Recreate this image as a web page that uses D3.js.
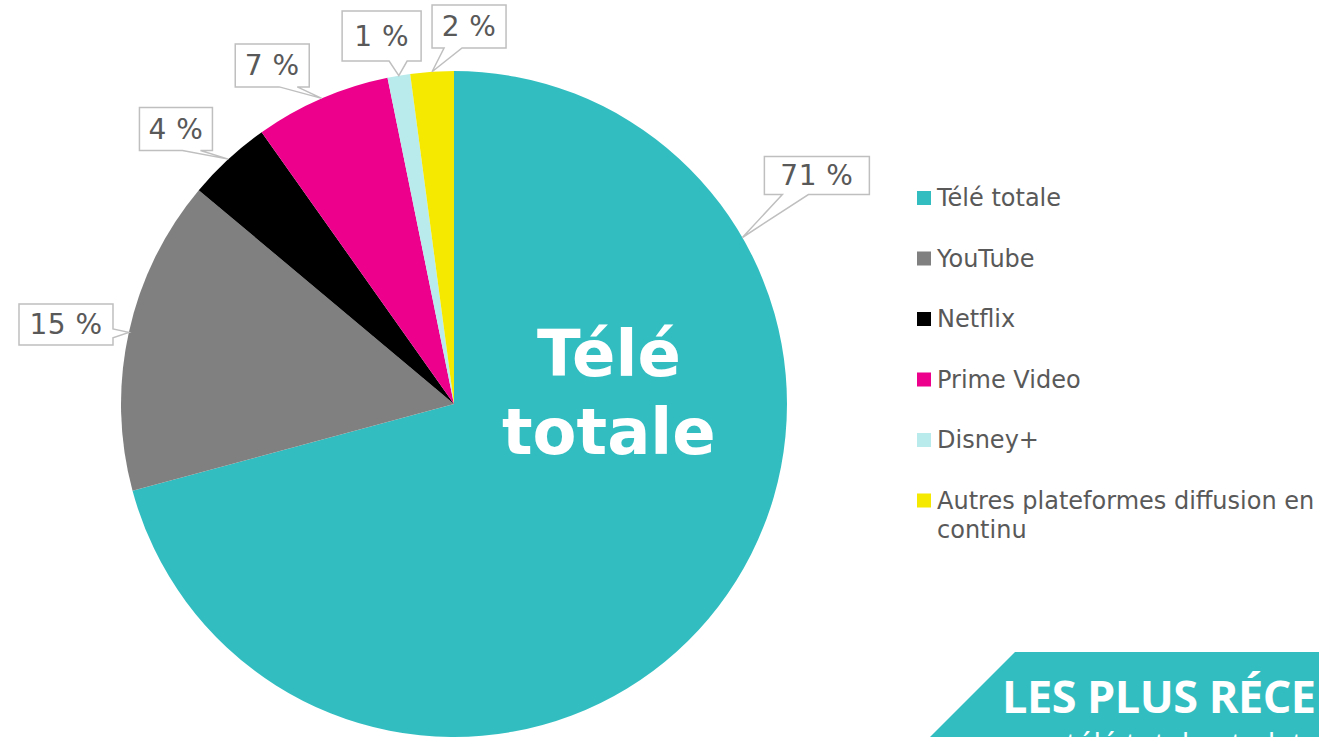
<!DOCTYPE html>
<html>
<head>
<meta charset="utf-8">
<script src="https://cdn.jsdelivr.net/npm/d3@7"></script>
<style>
    body { margin: 0; background: #fff; }
    svg { display: block; }
</style>
</head>
<body>
<div id="chart"></div>
<script>
// Parts d'écoute (en %)
const categories = ["Télé totale", "YouTube", "Netflix", "Prime Video", "Disney+", "Autres plateformes diffusion en continu"];
const shares = [70.8, 15.3, 4.1, 6.6, 1.1, 2.1];
const shareLabels = ["71 %", "15 %", "4 %", "7 %", "1 %", "2 %"];
const colors = ["#32bec1", "#808080", "#000000", "#ec008c", "#b9ebec", "#f5e900"];

// Callout placement: offset of box centre from the anchor on the rim, box size, side of the pointer
const calloutLayout = [
    {angle: 60, dx: 74.5, dy: -62, w: 105, h: 38, side: "bottom", b1: 18, b2: 44},
    {dx: -62.8, dy: -8, w: 94, h: 41, side: "right", b1: 25, b2: 34},
    {dx: -52.4, dy: -30.1, w: 73, h: 43, side: "bottom", b1: 43, b2: 61},
    {dx: -49.5, dy: -33, w: 74, h: 43, side: "bottom", b1: 44, b2: 62},
    {dx: -17.2, dy: -39.6, w: 79, h: 50, side: "bottom", b1: 47, b2: 65},
    {dx: 37, dy: -45.2, w: 74, h: 43, side: "bottom", b1: 12, b2: 30}
];

const width = 1319, height = 737;
const cx = 454, cy = 404, radius = 333;
const textGray = "#595959";

const svg = d3.select("#chart").append("svg")
    .attr("width", width)
    .attr("height", height);

const pie = d3.pie().sort(null).value(d => d);
const arc = d3.arc().innerRadius(0).outerRadius(radius);
const arcs = pie(shares);

const pieG = svg.append("g").attr("transform", `translate(${cx},${cy})`);

pieG.selectAll("path.slice")
    .data(arcs)
    .enter().append("path")
    .attr("class", "slice")
    .attr("d", arc)
    .attr("fill", (d, i) => colors[i]);

// big label inside the first slice
const inner = pieG.append("text")
    .attr("x", radius * 0.465)
    .attr("y", 0)
    .attr("text-anchor", "middle")
    .attr("fill", "#fff")
    .style("font-family", "'DejaVu Sans', Verdana, sans-serif")
    .style("font-weight", "bold")
    .style("font-size", "64px");
inner.append("tspan").attr("x", radius * 0.465).attr("dy", -28).text("Télé");
inner.append("tspan").attr("x", radius * 0.465).attr("dy", 78).text("totale");

// callouts
function rimPoint(a) {
    return [radius * Math.sin(a), -radius * Math.cos(a)];
}

arcs.forEach((d, i) => {
    let lay = calloutLayout[i];
    let a = lay.angle !== undefined ? lay.angle * Math.PI / 180 : (d.startAngle + d.endAngle) / 2;
    let [ax, ay] = rimPoint(a);
    let L = ax + lay.dx - lay.w / 2, T = ay + lay.dy - lay.h / 2;
    let R = L + lay.w, B = T + lay.h;

    let p = d3.path();
    p.moveTo(L, T);
    if (lay.side === "right") {
        p.lineTo(R, T);
        p.lineTo(R, T + lay.b1);
        p.lineTo(ax, ay);
        p.lineTo(R, T + lay.b2);
        p.lineTo(R, B);
        p.lineTo(L, B);
    } else {
        p.lineTo(R, T);
        p.lineTo(R, B);
        p.lineTo(L + lay.b2, B);
        p.lineTo(ax, ay);
        p.lineTo(L + lay.b1, B);
        p.lineTo(L, B);
    }
    p.closePath();

    let g = pieG.append("g").attr("class", "callout");
    g.append("path")
        .attr("d", p.toString())
        .attr("fill", "#fff")
        .attr("stroke", "#bfbfbf")
        .attr("stroke-width", 1.5);
    g.append("text")
        .attr("x", L + lay.w / 2)
        .attr("y", T + lay.h / 2)
        .attr("text-anchor", "middle")
        .attr("dominant-baseline", "central")
        .attr("fill", textGray)
        .style("font-family", "'DejaVu Sans', Verdana, sans-serif")
        .style("font-size", "28px")
        .style("letter-spacing", "0.5px")
        .text(shareLabels[i]);
});

// legend
const legend = svg.append("g").attr("transform", "translate(917,206)");
const rowStep = 60.5;
const items = legend.selectAll("g.item")
    .data(categories)
    .enter().append("g")
    .attr("class", "item")
    .attr("transform", (d, i) => `translate(0,${i * rowStep})`);

items.append("rect")
    .attr("x", 0)
    .attr("y", -15)
    .attr("width", 14)
    .attr("height", 14)
    .attr("fill", (d, i) => colors[i]);

items.append("text")
    .attr("x", 20)
    .attr("y", 0)
    .attr("fill", textGray)
    .style("font-family", "'DejaVu Sans', Verdana, sans-serif")
    .style("font-size", "24px")
    .each(function(d) {
        let lines = d === "Autres plateformes diffusion en continu"
            ? ["Autres plateformes diffusion en", "continu"] : [d];
        let t = d3.select(this);
        lines.forEach((ln, k) => {
            t.append("tspan").attr("x", 20).attr("dy", k === 0 ? 0 : 29).text(ln);
        });
    });

// banner in the bottom right corner
svg.append("path")
    .attr("d", "M930,737 L1015,652 L1319,652 L1319,737 Z")
    .attr("fill", "#32bec1");

svg.append("text")
    .attr("x", 1002)
    .attr("y", 713)
    .attr("fill", "#fff")
    .style("font-family", "'Open Sans', sans-serif")
    .style("font-weight", "bold")
    .style("font-size", "45px")
    .style("letter-spacing", "-0.5px")
    .text("LES PLUS RÉCENTS");

svg.append("text")
    .attr("x", 1066)
    .attr("y", 754)
    .attr("fill", "#fff")
    .style("font-family", "'Open Sans', sans-serif")
    .style("font-size", "30px")
    .text("télé totale et plateformes");
</script>
</body>
</html>
